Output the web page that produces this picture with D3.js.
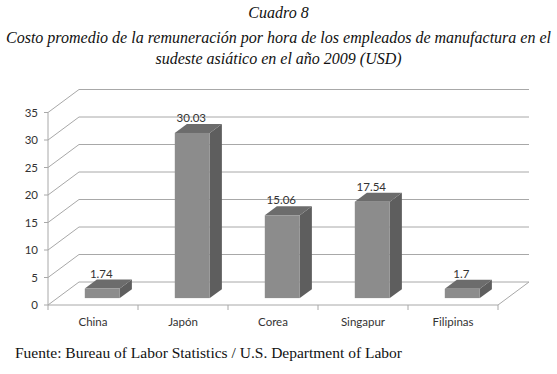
<!DOCTYPE html>
<html lang="es">
<head>
<meta charset="UTF-8">
<title>Cuadro 8</title>
<style>
  body { margin: 0; background: #fff; }
  svg { display: block; }
  .title { font-family: "Liberation Serif", serif; font-style: italic; fill: #111; }
  .source { font-family: "Liberation Serif", serif; fill: #111; }
  .axis text, .val { font-family: Lato, "Open Sans", sans-serif; font-size: 11.5px; fill: #333; }
</style>
</head>
<body>
<script src="https://cdnjs.cloudflare.com/ajax/libs/d3/7.8.5/d3.min.js"></script>
<script>
const categories = ["China", "Japón", "Corea", "Singapur", "Filipinas"];
const values = [1.74, 30.03, 15.06, 17.54, 1.7];
const valueLabels = ["1.74", "30.03", "15.06", "17.54", "1.7"];
const yTicks = [0, 5, 10, 15, 20, 25, 30, 35];

const width = 557, height = 374;
// 3d depth of the plot box
const depthX = 31, depthY = -23;
const barFront = 0.3, barBack = 0.69; // bar position inside the depth
const barW = 35;

const x = d3.scaleBand().domain(categories).range([48, 498]);
const y = d3.scaleLinear().domain([0, 35]).range([305, 112.5]);

const svg = d3.select("body").append("svg").attr("width", width).attr("height", height);

// titles
const titleLines = [
  ["Cuadro 8", 18],
  ["Costo promedio de la remuneración por hora de los empleados de manufactura en el", 43],
  ["sudeste asiático en el año 2009 (USD)", 64]
];
svg.append("g").selectAll("text").data(titleLines).enter().append("text")
  .attr("class", "title")
  .attr("x", width / 2).attr("y", d => d[1])
  .attr("text-anchor", "middle")
  .attr("font-size", "16px")
  .text(d => d[0]);

const grid = svg.append("g").attr("stroke", "#a8a8a8").attr("fill", "none").attr("stroke-width", 1);

// gridlines: left wall diagonal + back wall horizontal
yTicks.forEach(t => {
  const y0 = y(t);
  grid.append("path")
    .attr("d", `M${x.range()[0]},${y0}L${x.range()[0] + depthX},${y0 + depthY}L${x.range()[1] + depthX},${y0 + depthY}`);
});
// floor front + right edge
grid.append("path")
  .attr("d", `M${x.range()[0]},${y(0)}L${x.range()[1]},${y(0)}L${x.range()[1] + depthX},${y(0) + depthY}`);
// y axis line
grid.append("line")
  .attr("x1", x.range()[0]).attr("x2", x.range()[0])
  .attr("y1", y(0)).attr("y2", y(35));

// y axis ticks + labels
const yAxis = svg.append("g").attr("class", "axis");
yTicks.forEach(t => {
  yAxis.append("line").attr("x1", 44).attr("x2", 48).attr("y1", y(t)).attr("y2", y(t)).attr("stroke", "#a8a8a8");
  yAxis.append("text").attr("x", 38).attr("y", y(t)).attr("dy", "0.35em")
    .attr("text-anchor", "end").text(t);
});

// x axis ticks + labels
const bounds = categories.map(c => x(c)).concat([x.range()[1]]);
bounds.forEach(b => {
  yAxis.append("line").attr("x1", b).attr("x2", b).attr("y1", y(0)).attr("y2", y(0) + 5).attr("stroke", "#a8a8a8");
});
yAxis.selectAll(".cat").data(categories).enter().append("text")
  .attr("class", "cat")
  .attr("x", d => x(d) + x.bandwidth() / 2)
  .attr("y", 326)
  .attr("text-anchor", "middle")
  .text(d => d);

// bars
const bars = svg.append("g");
const data = categories.map((c, i) => ({ cat: c, v: values[i], label: valueLabels[i] }));
data.forEach(d => {
  const cx = x(d.cat) + x.bandwidth() / 2;
  const fx0 = cx - barW / 2 + barFront * depthX;
  const fx1 = fx0 + barW;
  const fyTop = y(d.v) + barFront * depthY;
  const fyBot = y(0) + barFront * depthY;
  const ddx = (barBack - barFront) * depthX;
  const ddy = (barBack - barFront) * depthY;
  // side
  bars.append("path")
    .attr("d", `M${fx1},${fyTop}L${fx1 + ddx},${fyTop + ddy}L${fx1 + ddx},${fyBot + ddy}L${fx1},${fyBot}Z`)
    .attr("fill", "#5e5e5e");
  // top
  bars.append("path")
    .attr("d", `M${fx0},${fyTop}L${fx0 + ddx},${fyTop + ddy}L${fx1 + ddx},${fyTop + ddy}L${fx1},${fyTop}Z`)
    .attr("fill", "#6c6c6c");
  // front
  bars.append("rect")
    .attr("x", fx0).attr("y", fyTop)
    .attr("width", barW).attr("height", fyBot - fyTop)
    .attr("fill", "#8c8c8c");
  // value label
  bars.append("text").attr("class", "val")
    .attr("x", (fx0 + fx1) / 2 - 1)
    .attr("y", fyTop + ddy - 2)
    .attr("text-anchor", "middle")
    .text(d.label);
});

// source
svg.append("text").attr("class", "source")
  .attr("x", 15).attr("y", 358)
  .attr("font-size", "15.5px")
  .text("Fuente: Bureau of Labor Statistics / U.S. Department of Labor");
</script>
</body>
</html>
